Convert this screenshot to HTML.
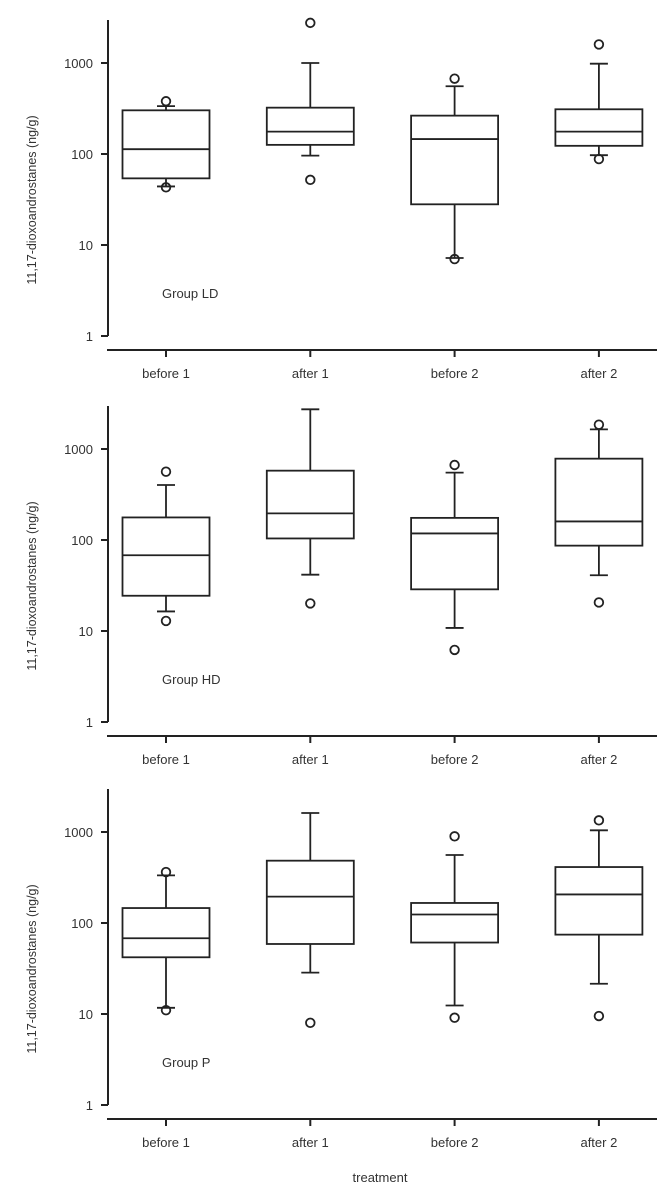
<!DOCTYPE html>
<html><head><meta charset="utf-8"><style>
html,body{margin:0;padding:0;background:#fff}
svg{display:block}
text{font-family:"Liberation Sans",sans-serif;fill:#333}
</style></head><body>
<svg id="chart" width="671" height="1196" viewBox="0 0 671 1196"></svg>
<script>
const categories = ["before 1","after 1","before 2","after 2"];
const groupNames = ["Group LD","Group HD","Group P"];
const tickValues = [1,10,100,1000];
const tickLabels = ["1","10","100","1000"];
// [whiskerLow, q1, median, q3, whiskerHigh]
const statsLD = [[44,54,113,302,336],[96,126,176,323,1000],[7.2,28,146,264,555],[97,123,176,310,983]];
const statsHD = [[16.4,24.4,68,177,402],[41.6,104,196,578,2730],[10.8,28.7,118,175,550],[41,86.7,160,783,1644]];
const statsP  = [[11.7,42,68,146,334],[28.5,58.8,195,484,1617],[12.4,61,124,166,559],[21.5,74.5,206,412,1043]];
const outliersLD = [[380,43],[2760,52],[673,7],[1600,88]];
const outliersHD = [[563,12.9],[20.1],[667,6.2],[1850,20.6]];
const outliersP  = [[363,11],[8.0],[896,9.1],[1343,9.5]];

const svg = document.getElementById('chart');
const NS = 'http://www.w3.org/2000/svg';
function mk(tag, attrs, parent){const e=document.createElementNS(NS,tag);for(const k in attrs)e.setAttribute(k,attrs[k]);parent.appendChild(e);return e;}
const allStats=[statsLD,statsHD,statsP];
const allOut=[outliersLD,outliersHD,outliersP];
const y1000s=[63,449,832];
const decade=91;
const axisX=108, axisRight=657;
const xc=i=>166+i*144.3;
const halfW=43.5, cap=9;
const slugs=['ld','hd','p'];
for(let p=0;p<3;p++){
  const y0=y1000s[p];
  const ys=v=>y0+(3-Math.log10(v))*decade;
  const g=mk('g',{},svg);
  
  
  const ya=mk('line',{x1:axisX,x2:axisX,y1:y0-43,y2:ys(1),stroke:'#222','stroke-width':2},g);
  
  
  tickValues.forEach((v,i)=>{
    mk('line',{x1:axisX-7,x2:axisX,y1:ys(v),y2:ys(v),stroke:'#222','stroke-width':2},g);
    const t=mk('text',{x:93,y:ys(v)+5,'text-anchor':'end','font-size':13},g);
    t.textContent=tickLabels[i];
    
    
  });
  const xaY=ys(1)+14;
  const xa=mk('line',{x1:axisX-1,x2:axisRight,y1:xaY,y2:xaY,stroke:'#222','stroke-width':2},g);
  
  
  categories.forEach((c,i)=>{
    mk('line',{x1:xc(i),x2:xc(i),y1:xaY,y2:xaY+7,stroke:'#222','stroke-width':2},g);
    const t=mk('text',{x:xc(i),y:xaY+28,'text-anchor':'middle','font-size':13},g);
    t.textContent=c;
    
    
    const s=allStats[p][i];
    const bg=mk('g',{stroke:'#222','stroke-width':1.8,fill:'none'},g);
    
    
    mk('line',{x1:xc(i),x2:xc(i),y1:ys(s[0]),y2:ys(s[1])},bg);
    mk('line',{x1:xc(i),x2:xc(i),y1:ys(s[3]),y2:ys(s[4])},bg);
    mk('line',{x1:xc(i)-cap,x2:xc(i)+cap,y1:ys(s[0]),y2:ys(s[0])},bg);
    mk('line',{x1:xc(i)-cap,x2:xc(i)+cap,y1:ys(s[4]),y2:ys(s[4])},bg);
    mk('rect',{x:xc(i)-halfW,y:ys(s[3]),width:2*halfW,height:ys(s[1])-ys(s[3]),fill:'#fff'},bg);
    mk('line',{x1:xc(i)-halfW,x2:xc(i)+halfW,y1:ys(s[2]),y2:ys(s[2])},bg);
    allOut[p][i].forEach(v=>{
      const o=mk('circle',{cx:xc(i),cy:ys(v),r:4.3,fill:'none',stroke:'#222','stroke-width':1.8},g);
      
      
    });
  });
  const gl=mk('text',{x:162,y:y0+235,'font-size':13},g);
  gl.textContent=groupNames[p];
  
  
  const cy=y0+137;
  const yt=mk('text',{x:0,y:0,'text-anchor':'middle','font-size':12.5,transform:'translate(36,'+cy+') rotate(-90)'},g);
  yt.textContent='11,17-dioxoandrostanes (ng/g)';
  
  
}
const xt=mk('text',{x:380,y:1182,'text-anchor':'middle','font-size':13},svg);
xt.textContent='treatment';


</script>
</body></html>
